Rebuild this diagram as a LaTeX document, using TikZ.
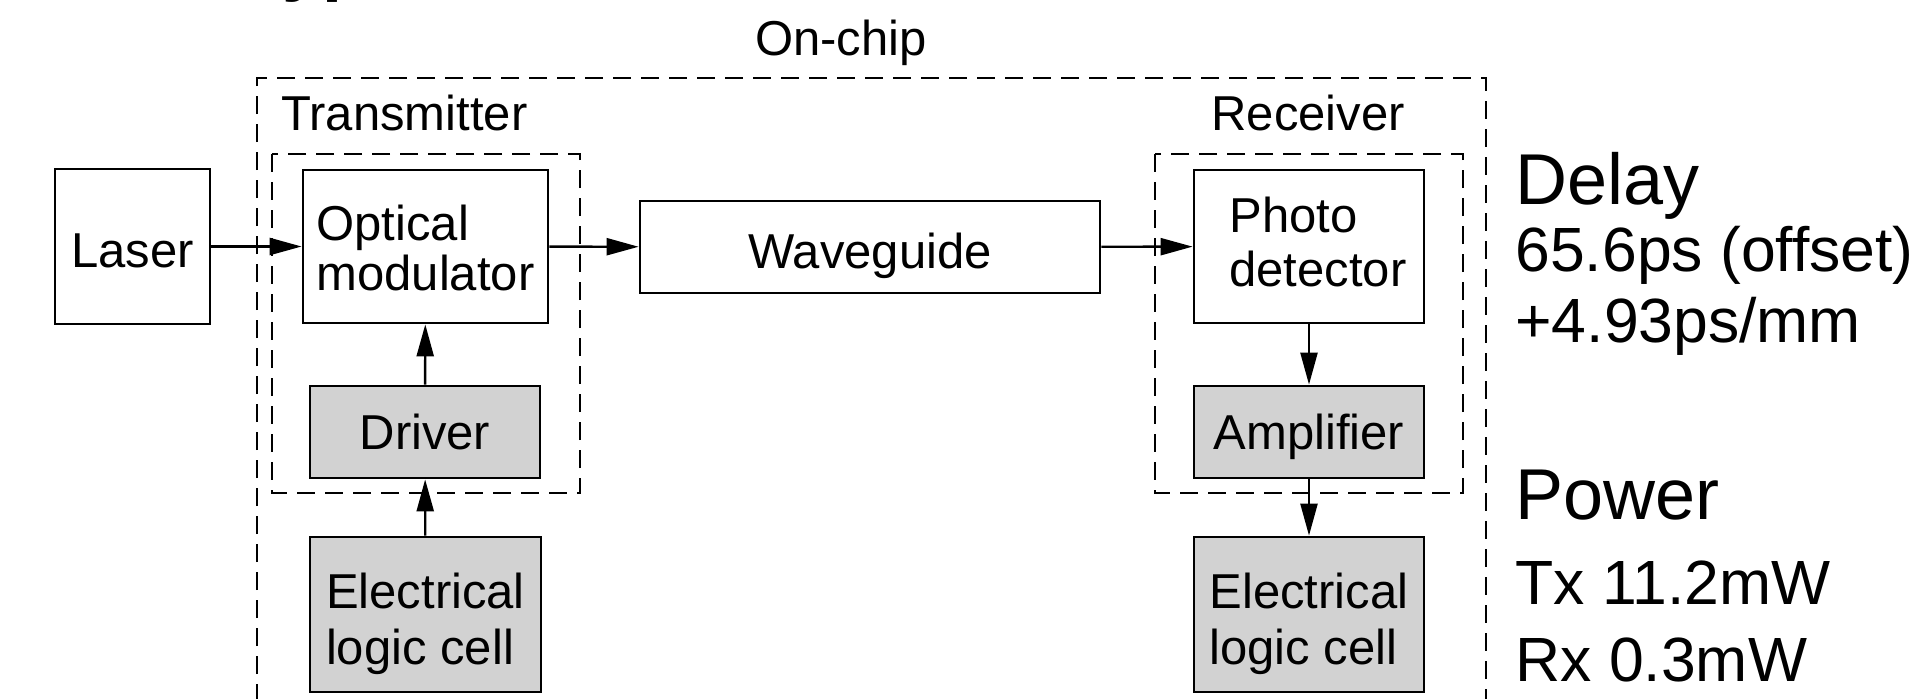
\documentclass[tikz,border=0pt]{standalone}
\usepackage{fontspec}
\setmainfont{Liberation Sans}
\usetikzlibrary{arrows.meta}
\definecolor{boxgray}{RGB}{210,210,210}
\begin{document}
\begin{tikzpicture}[x=0.5pt,y=-0.5pt,
  blk/.style={draw, line width=1.4pt, inner sep=0pt,
    font=\fontsize{24.5}{27.5}\selectfont},
  grayblk/.style={blk, fill=boxgray},
  arr/.style={-{Triangle[length=16pt,width=8.5pt]}, line width=1.2pt},
  dsh/.style={line width=1.3pt, dash pattern=on 9pt off 5pt},
  lbl/.style={inner sep=0pt, font=\fontsize{24.5}{27.5}\selectfont},
  head/.style={inner sep=0pt, anchor=base west, font=\fontsize{36}{40}\selectfont},
  val/.style={inner sep=0pt, anchor=base west, font=\fontsize{31.25}{36}\selectfont}]
\useasboundingbox (0,0) rectangle (1918,698);
\fill[white] (0,0) rectangle (1918,698);

% clipped title fragment at the very top
\node[inner sep=0pt, anchor=base west, font=\bfseries\fontsize{36}{40}\selectfont] (title) at (282,-13) {yp};

% outer on-chip boundary
\draw[dsh] (257,730) -- (257,78) -- (1486,78) -- (1486,730);
\node[lbl, anchor=base] (onchip) at (841,55) {On-chip};

% transmitter / receiver groups
\draw[dsh] (272,154) rectangle (580,493);
\draw[dsh] (1155,154) rectangle (1463,493);
\node[lbl, anchor=base west] (tx) at (281,130) {Transmitter};
\node[lbl, anchor=base west] (rx) at (1211,130) {Receiver};

% blocks
\node[blk, minimum width=77.5pt, minimum height=77.5pt, text height=20.5pt, text depth=0pt] (laser) at (132.5,246.5) {Laser};
\node[blk, minimum width=122.5pt, minimum height=76.5pt, text height=0pt, text depth=6.5pt, font=\fontsize{24.5}{24.5}\selectfont] (mod) at (425.5,246.5)
  {\begin{tabular}[t]{@{}l@{}}Optical\\modulator\end{tabular}};
\node[grayblk, minimum width=115pt, minimum height=46pt, text height=17.5pt, text depth=0pt] (drv) at (425,432) {Driver};
\node[grayblk, minimum width=115.5pt, minimum height=77.5pt, text height=0pt, text depth=6.5pt, font=\fontsize{24.5}{28}\selectfont] (elecl) at (425.5,614.5)
  {\begin{tabular}[t]{@{}l@{}}Electrical\\logic cell\end{tabular}};
\node[blk, minimum width=230pt, minimum height=46pt, text height=21pt, text depth=0pt] (wg) at (870,247) {Waveguide};
\node[blk, minimum width=115pt, minimum height=76.5pt, text height=0pt, text depth=14.5pt, font=\fontsize{24.5}{27}\selectfont] (pd) at (1309,246.5)
  {\begin{tabular}[t]{@{\hspace{9pt}}l@{}}Photo\\detector\end{tabular}};
\node[grayblk, minimum width=115pt, minimum height=46pt, text height=17pt, text depth=0pt] (amp) at (1309,432) {Amplifier};
\node[grayblk, minimum width=115pt, minimum height=77.5pt, text height=0pt, text depth=6.5pt, font=\fontsize{24.5}{28}\selectfont] (elecr) at (1309,614.5)
  {\begin{tabular}[t]{@{}l@{}}Electrical\\logic cell\end{tabular}};

% connectors
\draw[arr] (laser) -- (mod);
\draw[arr] (mod) -- (wg);
\draw[arr] (wg) -- (pd);
\draw[arr] (drv) -- (mod);
\draw[arr] (elecl) -- (drv);
\draw[arr] (pd) -- (amp);
\draw[arr] (amp) -- (elecr);

% figures
\node[head] (delay) at (1515,204) {Delay};
\node[val] (off) at (1515,271) {65.6ps (offset)};
\node[val] (slope) at (1515,342) {+4.93ps/mm};
\node[head] (power) at (1515,519) {Power};
\node[val] (txp) at (1515,604) {Tx 11.2mW};
\node[val] (rxp) at (1515,681) {Rx 0.3mW};
\end{tikzpicture}
\end{document}
